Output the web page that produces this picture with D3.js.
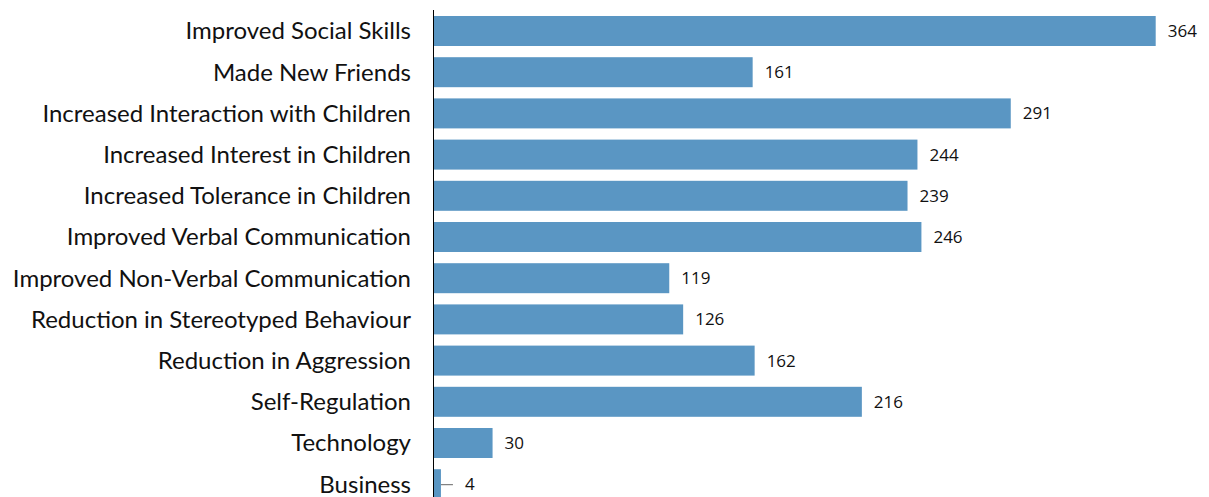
<!DOCTYPE html>
<html>
<head>
<meta charset="utf-8">
<script src="https://cdn.jsdelivr.net/npm/d3@7"></script>
<style>
  html, body { margin: 0; padding: 0; background: #fff; }
  svg { display: block; }
</style>
</head>
<body>
<svg id="chart" width="1209" height="497"></svg>
<script>
// Reported outcomes and number of mentions
const categories = [
  "Improved Social Skills",
  "Made New Friends",
  "Increased Interaction with Children",
  "Increased Interest in Children",
  "Increased Tolerance in Children",
  "Improved Verbal Communication",
  "Improved Non-Verbal Communication",
  "Reduction in Stereotyped Behaviour",
  "Reduction in Aggression",
  "Self-Regulation",
  "Technology",
  "Business"
];
const counts = [364, 161, 291, 244, 239, 246, 119, 126, 162, 216, 30, 4];

const svg = d3.select("#chart");
const axisX = 433;

const x = d3.scaleLinear().domain([0, 364]).range([axisX, 1155.7]);
const y = d3.scaleBand()
  .domain(categories)
  .range([10.4, 504.8])
  .paddingInner(0.272)
  .paddingOuter(0.136);

const rows = categories.map((c, i) => ({ cat: c, val: counts[i] }));

// bars
svg.append("g").selectAll("rect")
  .data(rows)
  .join("rect")
  .attr("x", axisX)
  .attr("y", d => y(d.cat))
  .attr("width", d => x(d.val) - axisX)
  .attr("height", y.bandwidth())
  .attr("fill", "#5a96c3");

// category axis: just the vertical line, labels on the left
svg.append("line")
  .attr("x1", axisX + 0.5).attr("x2", axisX + 0.5)
  .attr("y1", 10).attr("y2", 497)
  .attr("stroke", "#000").attr("stroke-width", 1);

svg.append("g").selectAll("text")
  .data(rows)
  .join("text")
  .attr("x", 411)
  .attr("y", d => y(d.cat) + y.bandwidth() / 2)
  .attr("dy", "0.35em")
  .attr("text-anchor", "end")
  .attr("font-family", "Lato, 'Open Sans', sans-serif")
  .attr("font-size", 24)
  .attr("fill", "#111")
  .text(d => d.cat);

// value labels; very short bars get a leader line
const vg = svg.append("g");
rows.forEach(d => {
  const end = x(d.val);
  const cy = y(d.cat) + y.bandwidth() / 2;
  let tx = end + 12;
  if (end - axisX < 15) {
    vg.append("line")
      .attr("x1", end).attr("x2", end + 12)
      .attr("y1", cy + 0.5).attr("y2", cy + 0.5)
      .attr("stroke", "#666").attr("stroke-width", 1);
    tx = end + 24;
  }
  vg.append("text")
    .attr("x", tx)
    .attr("y", cy)
    .attr("dy", "0.35em")
    .attr("font-family", "'Open Sans', sans-serif")
    .attr("font-size", 17)
    .attr("fill", "#111")
    .text(d.val);
});
</script>
</body>
</html>
